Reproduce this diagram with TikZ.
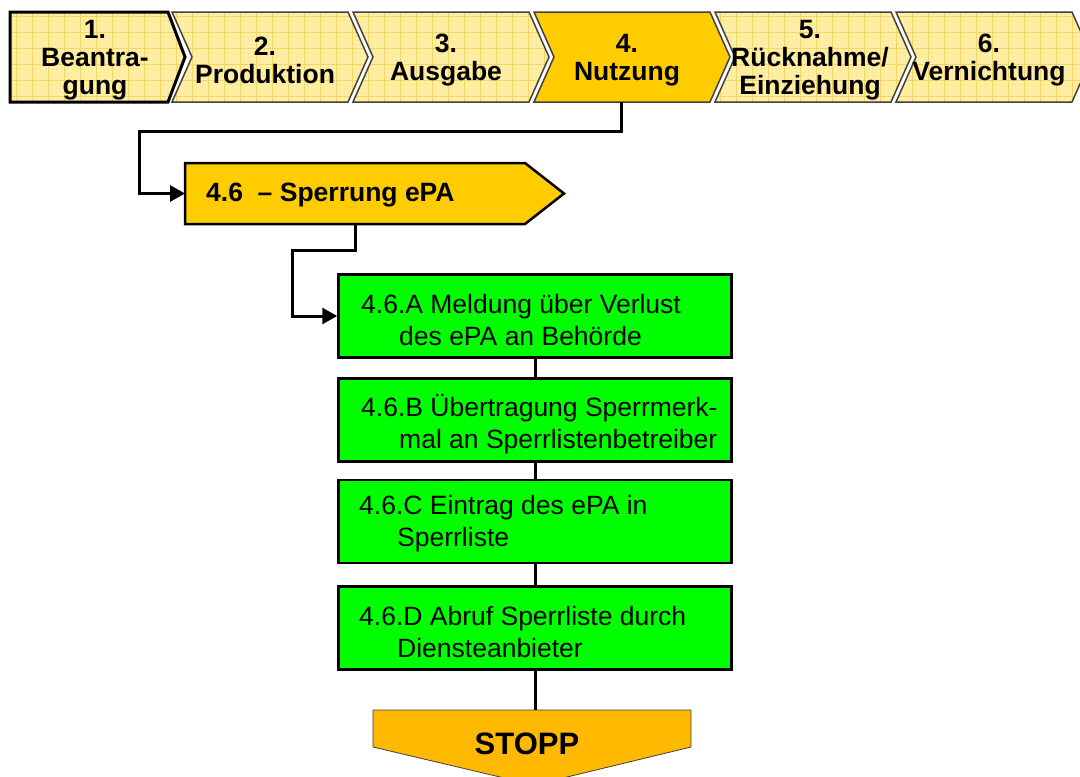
\documentclass[tikz,border=0pt]{standalone}
\usepackage{fontspec}
\setmainfont{Liberation Sans}
\usetikzlibrary{arrows.meta}
\definecolor{paleY}{HTML}{FFF0A8}
\definecolor{gridMinor}{HTML}{FDEA9A}
\definecolor{gridMajor}{HTML}{F6D465}
\definecolor{gold}{HTML}{FFCC00}
\definecolor{stopc}{HTML}{FFB900}
\definecolor{boxgreen}{HTML}{00FF00}
\definecolor{edgegray}{HTML}{404040}

% chevron outline with notch, left edge at #1
\newcommand\chevpath[1]{(#1,12) -- (#1+176,12) -- (#1+196,57) -- (#1+176,102) -- (#1,102) -- (#1+20,57) -- cycle}

\begin{document}
\begin{tikzpicture}[x=1pt,y=-1pt,
  phasetext/.style={font=\fontsize{26.5}{28}\selectfont\bfseries, align=center, inner sep=0pt},
  gbox/.style={draw=black, line width=2.5pt, fill=boxgreen, minimum width=393pt, minimum height=83pt, inner sep=0pt},
  gtext/.style={font=\fontsize{26.5}{32}\selectfont, align=left, inner sep=0pt, anchor=west},
  link/.style={draw=black, line width=3pt},
  arrowlink/.style={link, -{Triangle[length=15pt,width=16pt]}},
  chevedge/.style={draw=edgegray, line width=1.5pt, line join=miter},
  chevhalo/.style={draw=white, line width=5pt, line join=miter}
]
\clip (0,0) rectangle (1080,777);
\fill[white] (0,0) rectangle (1080,777);

% ---- phase bar ----
% phases 2,3,5,6 (pale, gridded)
\foreach \L in {172,353,715,896}{
  \draw[chevhalo] \chevpath{\L};
  \begin{scope}
    \clip \chevpath{\L};
    \fill[paleY] (\L,0) rectangle (\L+200,110);
    \draw[gridMinor, line width=0.5pt] (\L,0) grid[step=4pt] (\L+200,110);
    \draw[gridMajor, line width=0.7pt] (\L,0) grid[step=16pt] (\L+200,110);
  \end{scope}
  \draw[chevedge] \chevpath{\L};
}
% phase 4 (active)
\draw[chevhalo] \chevpath{534};
\fill[gold] \chevpath{534};
\draw[chevedge] \chevpath{534};

% phase 1 (flat left edge, heavy outline)
\draw[chevhalo] (10,12) -- (168,12) -- (185,57) -- (168,102) -- (10,102) -- cycle;
\begin{scope}
  \clip (10,12) -- (168,12) -- (185,57) -- (168,102) -- (10,102) -- cycle;
  \fill[paleY] (0,0) rectangle (200,110);
  \draw[gridMinor, line width=0.5pt] (0,0) grid[step=4pt] (200,110);
  \draw[gridMajor, line width=0.7pt] (0,0) grid[step=16pt] (200,110);
\end{scope}
\draw[black, line width=3pt, line join=miter] (10,12) -- (168,12) -- (185,57) -- (168,102) -- (10,102) -- cycle;

\node[phasetext] (p1) at (95,60) {1.\\Beantra-\\gung};
\node[phasetext] (p2) at (265,60) {2.\\Produktion};
\node[phasetext] (p3) at (446,60) {3.\\Ausgabe};
\node[phasetext] (p4) at (627,60) {4.\\Nutzung};
\node[phasetext] (p5) at (810,60) {5.\\Rücknahme/\\Einziehung};
\node[phasetext] (p6) at (989,60) {6.\\Vernichtung};
\coordinate (p4-bottom) at (621,102);

% ---- sub-process 4.6 ----
\fill[gold] (185,163) -- (525,163) -- (564,193.5) -- (525,224) -- (185,224) -- cycle;
\draw[black, line width=2.5pt] (185,163) -- (525,163) -- (564,193.5) -- (525,224) -- (185,224) -- cycle;
\coordinate (sp-west) at (185,193.5);
\coordinate (sp-south) at (355,224);
\node[font=\fontsize{26.5}{28}\selectfont\bfseries, anchor=west, inner sep=0pt] (sp) at (206,195) {4.6~~– Sperrung ePA};

% ---- steps ----
\node[gbox] (A) at (535,316) {};
\node[gbox] (B) at (535,420) {};
\node[gbox] (C) at (535,521.5) {};
\node[gbox] (D) at (535,628) {};
\node[gtext] (At) at (361,320) {4.6.A Meldung über Verlust\\\hspace*{38pt}des ePA an Behörde};
\node[gtext] (Bt) at (361,424) {4.6.B Übertragung Sperrmerk-\\\hspace*{38pt}mal an Sperrlistenbetreiber};
\node[gtext] (Ct) at (359,524) {4.6.C Eintrag des ePA in\\\hspace*{38pt}Sperrliste};
\node[gtext] (Dt) at (359,632) {4.6.D Abruf Sperrliste durch\\\hspace*{38pt}Diensteanbieter};

% ---- end marker ----
\fill[stopc] (373,710) -- (691,710) -- (691,747) -- (534,785) -- (373,747) -- cycle;
\draw[edgegray, line width=0.8pt] (373,710) -- (691,710) -- (691,747) -- (534,785) -- (373,747) -- cycle;
\coordinate (stop-top) at (535,710);
\node[font=\fontsize{31}{33}\selectfont\bfseries, inner sep=0pt] (stop) at (527,744) {STOPP};

% ---- connectors ----
\draw[arrowlink] (p4-bottom) -- (621,131) -- (139,131) -- (139,193.5) -- (sp-west);
\draw[arrowlink] (sp-south) -- (355,250) -- (292,250) -- (292,316) -- (A.west);
\draw[link] (A.south) -- (B.north);
\draw[link] (B.south) -- (C.north);
\draw[link] (C.south) -- (D.north);
\draw[link] (D.south) -- (stop-top);
\end{tikzpicture}
\end{document}
